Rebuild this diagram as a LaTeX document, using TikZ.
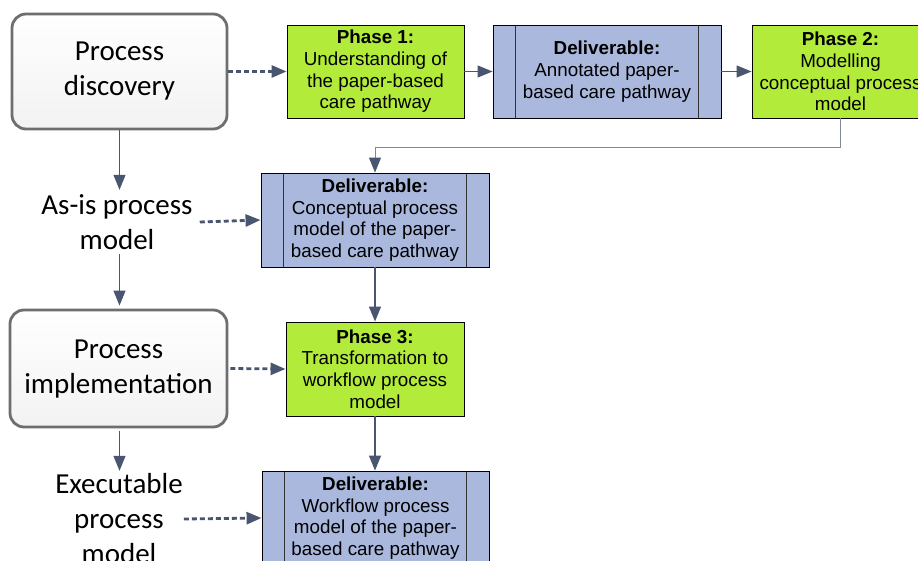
\documentclass[tikz,border=0pt]{standalone}
\usepackage{fontspec}
\setmainfont{Liberation Sans}
\newfontfamily\calib{Carlito}
\usetikzlibrary{arrows.meta,calc}
\definecolor{phasegreen}{HTML}{B2EB3A}
\definecolor{delblue}{HTML}{A9B8DC}
\definecolor{linkcol}{HTML}{4A5670}
\definecolor{stageedge}{HTML}{6E6E6E}
\tikzset{
  stagebox/.style={draw=stageedge, line width=2.8pt, rounded corners=14pt,
    top color=white, bottom color=black!5, inner sep=0pt, align=center,
    font=\calib\fontsize{29}{35}\selectfont},
  stagelabel/.style={inner sep=0pt, align=center,
    font=\calib\fontsize{29}{35}\selectfont},
  phasebox/.style={draw=black, line width=0.9pt, fill=phasegreen, inner sep=0pt,
    align=center, minimum height=93pt, font=\fontsize{18.8}{21.7}\selectfont},
  delivbox/.style={draw=black, line width=0.9pt, fill=delblue, inner sep=0pt,
    align=center, minimum height=94pt, font=\fontsize{18.8}{21.7}\selectfont,
    path picture={
      \draw[black!80, line width=0.9pt]
        ([xshift=22.5pt]path picture bounding box.north west) --
        ([xshift=22.5pt]path picture bounding box.south west)
        ([xshift=-22.5pt]path picture bounding box.north east) --
        ([xshift=-22.5pt]path picture bounding box.south east);}},
  flow/.style={draw=linkcol, line width=1.2pt,
    -{Triangle[length=15pt,width=12pt,color=linkcol]}},
  feed/.style={draw=linkcol, line width=2.8pt, dash pattern=on 5pt off 3pt,
    -{Triangle[length=15pt,width=12pt]}},
}
\begin{document}
\begin{tikzpicture}[x=1pt,y=-1pt]
  \useasboundingbox (0,0) rectangle (918,561);
  \clip (0,0) rectangle (918,561);

  % left column: lifecycle stages and their products
  \node[stagebox, minimum width=215pt, minimum height=115pt] (disc) at (119.5,71.5)
    {\raisebox{-2pt}{\begin{tabular}{@{}c@{}}Process\\discovery\end{tabular}}};
  \node[stagelabel, minimum height=64pt, inner xsep=7pt] (asis) at (117,222)
    {As-is process\\model};
  \node[stagebox, minimum width=217pt, minimum height=117pt] (impl) at (118.5,368.5)
    {\raisebox{-2pt}{\begin{tabular}{@{}c@{}}Process\\implementation\end{tabular}}};
  \node[stagelabel, minimum height=96pt, inner xsep=1pt] (exec) at (119,519)
    {Executable\\process\\model};

  % right column: phases and deliverables
  \node[phasebox, minimum width=177pt] (ph1) at (375.5,71.5)
    {\textbf{Phase 1:}\\Understanding of\\the paper-based\\care pathway};
  \node[delivbox, minimum width=228pt, minimum height=93pt] (del1) at (607,71.5)
    {\textbf{Deliverable:}\\Annotated paper-\\based care pathway};
  \node[phasebox, minimum width=177pt] (ph2) at (840.5,71.5)
    {\textbf{Phase 2:}\\Modelling\\conceptual process\\model};
  \node[delivbox, minimum width=228pt] (del2) at (375,220)
    {\textbf{Deliverable:}\\Conceptual process\\model of the paper-\\based care pathway};
  \node[phasebox, minimum width=178pt, minimum height=94pt] (ph3) at (375,369)
    {\textbf{Phase 3:}\\Transformation to\\workflow process\\model};
  \node[delivbox, minimum width=227pt] (del3) at (375.5,518)
    {\textbf{Deliverable:}\\Workflow process\\model of the paper-\\based care pathway};

  % lifecycle flow (one vertical spine at the stage boxes' centre)
  \draw[flow] (disc.south) -- (disc.south |- asis.north);
  \draw[flow] (disc.south |- asis.south) -- ($(disc.south |- impl.north)+(0,-3)$);
  \draw[flow] ($(disc.south |- impl.south)+(0,3)$) -- (disc.south |- exec.north);

  % phase flow
  \draw[flow] (ph1.east) -- (del1.west);
  \draw[flow] (del1.east) -- (ph2.west);
  \draw[flow, line width=1pt, draw=linkcol!70] (ph2.south) -- ++(0,29) -| (del2.north);
  \draw[flow] (del2.south) -- (ph3.north);
  \draw[flow] (ph3.south) -- (ph3.south |- del3.north);

  % stage-to-phase links
  \draw[feed] (disc.east) -- (ph1.west);
  \draw[feed] (asis.east) -- (del2.west);
  \draw[feed] ($(impl.east)+(2,0)$) -- (ph3.west);
  \draw[feed] (exec.east) -- (del3.west);
\end{tikzpicture}
\end{document}
